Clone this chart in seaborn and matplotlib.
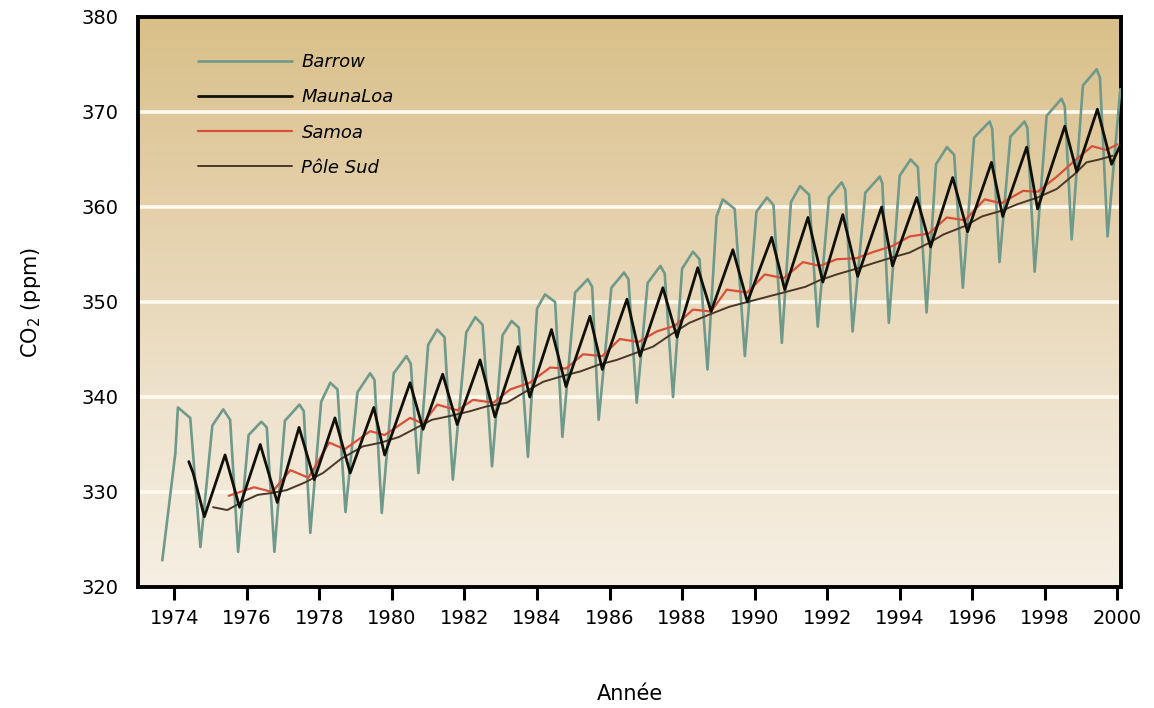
import numpy as np
import pandas as pd
import matplotlib
matplotlib.use("Agg")
import matplotlib.pyplot as plt
from matplotlib.colors import LinearSegmentedColormap
import seaborn as sns

# ---- data ----
barrow_t = [1973.67, 1974.03, 1974.10, 1974.44, 1974.72,
            1975.05, 1975.35, 1975.54, 1975.76,
            1976.05, 1976.40, 1976.55, 1976.76,
            1977.05, 1977.45, 1977.57, 1977.75,
            1978.05, 1978.30, 1978.50, 1978.72,
            1979.05, 1979.40, 1979.52, 1979.72,
            1980.05, 1980.40, 1980.52, 1980.73,
            1981.00, 1981.25, 1981.45, 1981.68,
            1982.05, 1982.30, 1982.50, 1982.76,
            1983.05, 1983.30, 1983.50, 1983.75,
            1984.00, 1984.22, 1984.50, 1984.70,
            1985.05, 1985.40, 1985.52, 1985.70,
            1986.05, 1986.40, 1986.52, 1986.75,
            1987.05, 1987.40, 1987.52, 1987.75,
            1988.00, 1988.30, 1988.48, 1988.70,
            1988.95, 1989.12, 1989.45, 1989.73,
            1990.05, 1990.34, 1990.52, 1990.75,
            1991.00, 1991.25, 1991.50, 1991.74,
            1992.05, 1992.40, 1992.50, 1992.70,
            1993.05, 1993.45, 1993.52, 1993.70,
            1994.00, 1994.30, 1994.50, 1994.74,
            1995.00, 1995.30, 1995.50, 1995.74,
            1996.05, 1996.48, 1996.55, 1996.75,
            1997.05, 1997.44, 1997.52, 1997.72,
            1998.05, 1998.46, 1998.55, 1998.74,
            1999.05, 1999.43, 1999.52, 1999.73,
            2000.08]
barrow_v = [322.8, 334.1, 338.9, 337.8, 324.2,
            337.0, 338.7, 337.6, 323.7,
            336.0, 337.4, 336.8, 323.7,
            337.5, 339.2, 338.5, 325.7,
            339.5, 341.5, 340.8, 327.9,
            340.5, 342.5, 341.8, 327.8,
            342.5, 344.3, 343.5, 332.0,
            345.5, 347.1, 346.3, 331.3,
            346.8, 348.4, 347.6, 332.7,
            346.5, 348.0, 347.3, 333.7,
            349.3, 350.8, 350.0, 335.8,
            351.0, 352.4, 351.6, 337.6,
            351.5, 353.1, 352.4, 339.4,
            352.0, 353.8, 353.0, 340.0,
            353.5, 355.3, 354.5, 342.9,
            359.0, 360.8, 359.8, 344.3,
            359.5, 361.0, 360.2, 345.7,
            360.5, 362.2, 361.3, 347.4,
            361.0, 362.6, 361.8, 346.9,
            361.5, 363.2, 362.5, 347.8,
            363.3, 365.0, 364.2, 348.9,
            364.5, 366.3, 365.5, 351.5,
            367.3, 369.0, 368.2, 354.2,
            367.4, 369.0, 368.3, 353.2,
            369.6, 371.4, 370.6, 356.6,
            372.8, 374.5, 373.6, 356.9,
            372.4]

mauna_t = [1974.40, 1974.52, 1974.83, 1975.40, 1975.80, 1976.37, 1976.84,
           1977.44, 1977.86, 1978.43, 1978.85, 1979.50, 1979.80, 1980.50,
           1980.86, 1981.40, 1981.80, 1982.43, 1982.84, 1983.48, 1983.80,
           1984.40, 1984.80, 1985.46, 1985.80, 1986.48, 1986.84, 1987.47,
           1987.86, 1988.43, 1988.80, 1989.40, 1989.80, 1990.47, 1990.83,
           1991.47, 1991.88, 1992.43, 1992.84, 1993.50, 1993.80, 1994.47,
           1994.85, 1995.46, 1995.87, 1996.53, 1996.84, 1997.50, 1997.80,
           1998.55, 1998.88, 1999.45, 1999.84, 2000.08]
mauna_v = [333.2, 332.0, 327.4, 333.9, 328.4, 335.0, 328.9,
           336.8, 331.3, 337.8, 332.0, 338.9, 333.9, 341.5,
           336.6, 342.4, 337.1, 343.9, 337.9, 345.3, 340.0,
           347.1, 341.1, 348.5, 342.9, 350.3, 344.3, 351.5,
           346.3, 353.6, 349.0, 355.5, 350.0, 356.8, 351.3,
           358.9, 352.1, 359.2, 352.7, 360.0, 353.8, 361.0,
           355.8, 363.1, 357.4, 364.7, 359.0, 366.3, 359.8,
           368.5, 363.7, 370.3, 364.5, 366.5]

samoa_t = [1975.50, 1976.20, 1976.70, 1977.20, 1977.70, 1978.27, 1978.70,
           1979.40, 1979.80, 1980.50, 1980.85, 1981.25, 1981.80, 1982.24,
           1982.80, 1983.26, 1983.80, 1984.36, 1984.80, 1985.27, 1985.80,
           1986.28, 1986.80, 1987.30, 1987.80, 1988.30, 1988.80, 1989.23,
           1989.80, 1990.28, 1990.80, 1991.33, 1991.80, 1992.26, 1992.80,
           1993.30, 1993.80, 1994.27, 1994.80, 1995.30, 1995.80, 1996.34,
           1996.80, 1997.40, 1997.80, 1998.33, 1998.80, 1999.30, 1999.70,
           2000.00]
samoa_v = [329.6, 330.5, 330.0, 332.3, 331.5, 335.2, 334.5,
           336.4, 336.0, 337.8, 337.2, 339.2, 338.6, 339.7,
           339.4, 340.8, 341.5, 343.1, 343.0, 344.5, 344.3,
           346.1, 345.8, 346.9, 347.5, 349.2, 349.0, 351.3,
           351.0, 352.9, 352.5, 354.2, 353.8, 354.5, 354.6,
           355.3, 355.9, 356.9, 357.2, 358.9, 358.6, 360.8,
           360.4, 361.7, 361.6, 363.2, 364.8, 366.4, 366.0,
           366.6]

pole_t = [1975.07, 1975.46, 1975.90, 1976.30, 1976.70, 1977.10, 1977.60,
          1978.10, 1978.60, 1979.20, 1979.70, 1980.20, 1980.70, 1981.10,
          1981.60, 1982.15, 1982.60, 1983.17, 1983.70, 1984.17, 1984.70,
          1985.20, 1985.70, 1986.20, 1986.70, 1987.20, 1987.70, 1988.20,
          1988.70, 1989.30, 1989.80, 1990.30, 1990.80, 1991.40, 1991.80,
          1992.26, 1992.80, 1993.37, 1993.80, 1994.27, 1994.80, 1995.20,
          1995.80, 1996.26, 1996.80, 1997.25, 1997.80, 1998.33, 1998.80,
          1999.15, 1999.50, 1999.87]
pole_v = [328.4, 328.1, 329.0, 329.7, 329.9, 330.2, 331.0,
          332.0, 333.5, 334.8, 335.2, 335.8, 336.8, 337.6,
          338.0, 338.5, 339.0, 339.4, 340.6, 341.6, 342.2,
          342.7, 343.4, 343.9, 344.6, 345.3, 346.6, 347.8,
          348.6, 349.5, 350.0, 350.5, 351.0, 351.6, 352.3,
          352.9, 353.5, 354.2, 354.7, 355.2, 356.2, 357.1,
          358.0, 359.0, 359.6, 360.3, 361.0, 361.9, 363.4,
          364.7, 365.0, 365.4]

stations = ["Barrow", "MaunaLoa", "Samoa", "Pôle Sud"]
x_ticks = list(range(1974, 2001, 2))
y_ticks = [320, 330, 340, 350, 360, 370, 380]

df = pd.concat([
    pd.DataFrame({"year": barrow_t, "co2": barrow_v, "station": stations[0]}),
    pd.DataFrame({"year": mauna_t, "co2": mauna_v, "station": stations[1]}),
    pd.DataFrame({"year": samoa_t, "co2": samoa_v, "station": stations[2]}),
    pd.DataFrame({"year": pole_t, "co2": pole_v, "station": stations[3]}),
], ignore_index=True)

colors = {"Barrow": "#6f9a8b", "MaunaLoa": "#111008",
          "Samoa": "#d9503a", "Pôle Sud": "#4b3728"}
widths = {"Barrow": 1.9, "MaunaLoa": 2.0, "Samoa": 1.6, "Pôle Sud": 1.4}
zorders = {"Barrow": 3, "MaunaLoa": 5, "Samoa": 4, "Pôle Sud": 4}

sns.set_style("white")
plt.rcParams["font.family"] = ["DejaVu Sans"]
plt.rcParams["text.color"] = "black"
plt.rcParams["axes.labelcolor"] = "black"
plt.rcParams["xtick.color"] = "black"
plt.rcParams["ytick.color"] = "black"

fig = plt.figure(figsize=(11.54, 7.08), dpi=100)
ax = fig.add_axes([138/1154, 1-587/708, (1121-138)/1154, (587-17)/708])

# background gradient
cmap = LinearSegmentedColormap.from_list(
    "bg", ["#f6efe3", "#eee2cc", "#e4d0aa", "#d9c089"])
grad = np.linspace(0, 1, 256).reshape(-1, 1)
ax.imshow(grad, aspect="auto", cmap=cmap, origin="lower",
          extent=[0, 1, 0, 1], transform=ax.transAxes, zorder=0)

for y in y_ticks[1:-1]:
    ax.axhline(y, color="#fffaf0", lw=2.6, zorder=1)

for st in stations:
    sub = df[df["station"] == st]
    sns.lineplot(data=sub, x="year", y="co2", ax=ax, color=colors[st],
                 lw=widths[st], label=st, estimator=None, sort=False,
                 zorder=zorders[st])

ax.set_xlim(1973.0, 2000.1)
ax.set_ylim(320, 380)
ax.set_xticks(x_ticks)
ax.set_yticks(y_ticks)
ax.tick_params(axis="x", length=9, width=2.2, direction="out", pad=7,
               labelsize=14, bottom=True, colors="black")
ax.tick_params(axis="y", length=0, pad=14, labelsize=14, colors="black")
for s in ax.spines.values():
    s.set_visible(True)
    s.set_color("black")
    s.set_linewidth(2.8)

ax.set_xlabel("Année", fontsize=15, labelpad=40, color="black")
ax.set_ylabel("CO$_2$ (ppm)", fontsize=15, labelpad=28, color="black")

leg = ax.legend(loc="upper left", bbox_to_anchor=(0.045, 0.965),
                frameon=False, handlelength=5.2, handletextpad=0.5,
                labelspacing=0.95, prop={"style": "italic", "size": 13})
for t in leg.get_texts():
    t.set_color("black")

fig.savefig("out.png", dpi=100)
